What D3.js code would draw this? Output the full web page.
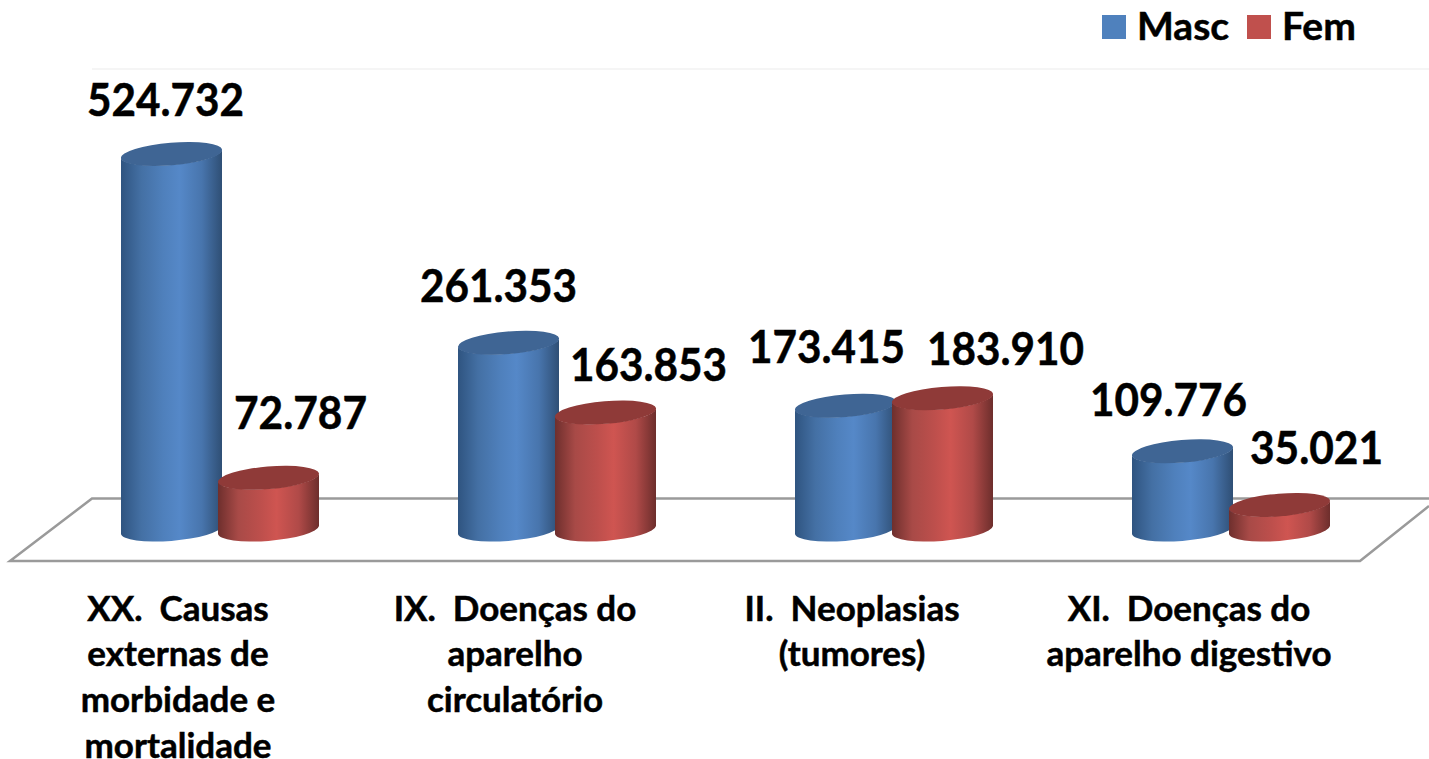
<!DOCTYPE html>
<html>
<head>
<meta charset="utf-8">
<title>Masc / Fem</title>
<script src="https://cdn.jsdelivr.net/npm/d3@7"></script>
<style>
    html, body { margin: 0; padding: 0; background: #fff; overflow: hidden; }
    svg { display: block; }
    text { font-family: Lato, "Open Sans", sans-serif; font-weight: 700; fill: #000; stroke: #000; stroke-width: 0.5px; }
</style>
</head>
<body>
<svg id="chart" width="1429" height="759"></svg>
<script>
const categories = ["XX", "IX", "II", "XI"];
const categoryLines = [
    ["XX.  Causas", "externas de", "morbidade e", "mortalidade"],
    ["IX.  Doenças do", "aparelho", "circulatório"],
    ["II.  Neoplasias", "(tumores)"],
    ["XI.  Doenças do", "aparelho digestivo"]
];
const seriesNames = ["Masc", "Fem"];
const mascValues = [524732, 261353, 173415, 109776];
const femValues = [72787, 163853, 183910, 35021];

// hand placed data labels, offset from the top of each cylinder
const mascLabelOffset = [[-6, -38], [-10, -41], [-19, -43], [-14, -35]];
const femLabelOffset = [[32, -49], [43, -32], [63, -33], [37, -41]];

const colors = {
    Masc: { flat: "#4f81bd", top: "#3f6594", stops: ["#2f5480", "#4470a4", "#4f80bc", "#5588c8", "#4875ad", "#2f4f75"] },
    Fem: { flat: "#c0504d", top: "#8f3a38", stops: ["#6e2f2d", "#a84a47", "#bd4f4c", "#cf5551", "#b04a48", "#6d2e2c"] }
};

const svg = d3.select("#chart");

const x = d3.scaleBand().domain(categories).range([121, 121 + 337 * 4]);
const xSeries = d3.scalePoint().domain(seriesNames).range([0, 97]);
const y = d3.scaleLinear().domain([0, 524732]).range([530, 154]);

// ellipse of the cylinder caps, tilted a little
const halfWidth = 50.5, rx = 50.7, ry = 11.3, tilt = -4.77, edgeDy = -4;

const number = d3.format(",");
const formatValue = v => number(v).replace(",", ".");

function addGradients() {
    const defs = svg.append("defs");
    seriesNames.forEach(name => {
        const gradient = defs.append("linearGradient").attr("id", `grad-${name}`);
        [0, 0.2, 0.42, 0.58, 0.8, 1].forEach((offset, i) => {
            gradient.append("stop")
                .attr("offset", offset)
                .attr("stop-color", colors[name].stops[i]);
        });
    });
}

function drawFloor() {
    svg.append("line")
        .attr("x1", 92).attr("x2", 1429)
        .attr("y1", 69).attr("y2", 69)
        .attr("stroke", "#f2f2f2")
        .attr("stroke-width", 1.5);

    svg.append("path")
        .attr("d", "M1429,498.5H92L10,561H1360L1429,506")
        .attr("fill", "none")
        .attr("stroke", "#9a9a9a")
        .attr("stroke-width", 2.5);
}

function drawCylinder(g, name, value, cx) {
    const top = y(value), bottom = y(0);
    const left = cx - halfWidth, right = cx + halfWidth;

    g.append("path")
        .attr("d", `M${left},${top - edgeDy}V${bottom - edgeDy}` +
            `A${rx},${ry} ${tilt} 0 0 ${right},${bottom + edgeDy}V${top + edgeDy}` +
            `A${rx},${ry} ${tilt} 0 1 ${left},${top - edgeDy}Z`)
        .attr("fill", `url(#grad-${name})`);

    g.append("ellipse")
        .attr("rx", rx)
        .attr("ry", ry)
        .attr("transform", `translate(${cx},${top}) rotate(${tilt})`)
        .attr("fill", colors[name].top);
}

function drawBars() {
    categories.forEach((c, i) => {
        const g = svg.append("g").attr("class", "category");
        drawCylinder(g, "Masc", mascValues[i], x(c) + xSeries("Masc") + halfWidth);
        drawCylinder(g, "Fem", femValues[i], x(c) + xSeries("Fem") + halfWidth);
    });
}

function drawValueLabels() {
    const rows = [
        { name: "Masc", values: mascValues, offsets: mascLabelOffset },
        { name: "Fem", values: femValues, offsets: femLabelOffset }
    ];
    rows.forEach(row => {
        svg.append("g").selectAll("text")
            .data(row.values)
            .enter().append("text")
            .attr("x", (d, i) => x(categories[i]) + xSeries(row.name) + halfWidth + row.offsets[i][0])
            .attr("y", (d, i) => y(d) + row.offsets[i][1])
            .attr("text-anchor", "middle")
            .attr("textLength", d => d >= 100000 ? 157 : 133)
            .attr("lengthAdjust", "spacingAndGlyphs")
            .style("font-size", "46px")
            .text(formatValue);
    });
}

function drawCategoryLabels() {
    const labels = svg.append("g").selectAll("text")
        .data(categories)
        .enter().append("text")
        .attr("text-anchor", "middle")
        .style("font-size", "35px");

    labels.each(function (c, i) {
        d3.select(this).selectAll("tspan")
            .data(categoryLines[i])
            .enter().append("tspan")
            .attr("x", x(c) + 57)
            .attr("y", (d, j) => 620.5 + j * 45.7)
            .attr("xml:space", "preserve")
            .style("white-space", "pre")
            .text(d => d);
    });
}

function drawLegend() {
    const legendX = d3.scaleOrdinal().domain(seriesNames).range([1102, 1247]);
    const legend = svg.append("g").selectAll("g")
        .data(seriesNames)
        .enter().append("g")
        .attr("transform", d => `translate(${legendX(d)},15)`);

    legend.append("rect")
        .attr("width", 24)
        .attr("height", 24)
        .attr("fill", d => colors[d].flat);

    legend.append("text")
        .attr("x", 35)
        .attr("y", 25)
        .style("font-size", "39px")
        .text(d => d);
}

addGradients();
drawFloor();
drawBars();
drawValueLabels();
drawCategoryLabels();
drawLegend();
</script>
</body>
</html>
